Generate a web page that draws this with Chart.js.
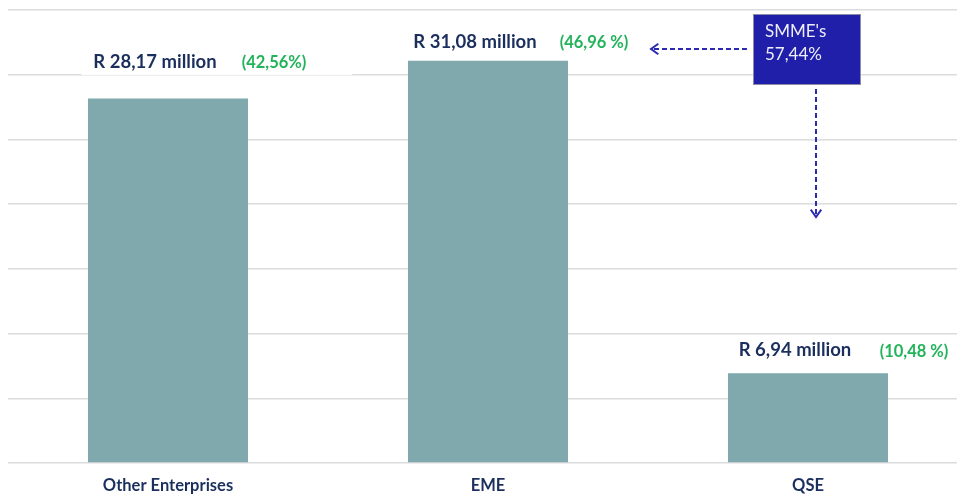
<!DOCTYPE html>
<html>
<head>
<meta charset="utf-8">
<script src="https://cdn.jsdelivr.net/npm/chart.js@4.4.1/dist/chart.umd.min.js"></script>
<style>
html,body{margin:0;padding:0;background:#fff;overflow:hidden;}
#wrap{width:970px;height:497px;position:relative;}
</style>
</head>
<body>
<div id="wrap"><canvas id="c"></canvas></div>
<script>
const categories = ['Other Enterprises', 'EME', 'QSE'];
const values = [28.17, 31.08, 6.94];
const valueLabels = ['R 28,17 million', 'R 31,08 million', 'R 6,94 million'];
const shareLabels = ['(42,56%)', '(46,96 %)', '(10,48 %)'];
const calloutLines = ["SMME's", '57,44%'];
const yTicksMax = 35;
const yTickStep = 5;

const NAVY = '#1B2F5E';
const GREEN = '#22B35A';
const BAR = '#80A9AE';
const GRID = '#DCDCDC';
const ARROW = '#2A2AB2';
const FONT = 'Lato, Carlito, "Open Sans", sans-serif';

function dashedArrow(ctx, x1, y1, x2, y2) {
  ctx.save();
  ctx.strokeStyle = ARROW;
  ctx.lineWidth = 2;
  ctx.setLineDash([5, 3]);
  ctx.beginPath(); ctx.moveTo(x1, y1); ctx.lineTo(x2, y2); ctx.stroke();
  ctx.setLineDash([]);
  const ang = Math.atan2(y2 - y1, x2 - x1);
  const L = 9, W = 0.62;
  ctx.beginPath();
  ctx.moveTo(x2 - L * Math.cos(ang - W), y2 - L * Math.sin(ang - W));
  ctx.lineTo(x2, y2);
  ctx.lineTo(x2 - L * Math.cos(ang + W), y2 - L * Math.sin(ang + W));
  ctx.stroke();
  ctx.restore();
}

const annot = {
  id: 'annot',
  afterDatasetsDraw(chart) {
    const ctx = chart.ctx;
    const meta = chart.getDatasetMeta(0);
    const labelOffsets = [36.5, 19, 23];
    const VF = 'bold 18.5px ' + FONT;
    const GF = 'bold 16.5px ' + FONT;
    ctx.save();
    meta.data.forEach((bar, i) => {
      const y = bar.y - labelOffsets[i];
      const vx = bar.x - 13;
      const gx = bar.x + 106;
      ctx.font = VF;
      const vw = ctx.measureText(valueLabels[i]).width;
      ctx.font = GF;
      const gw = ctx.measureText(shareLabels[i]).width;
      ctx.fillStyle = '#fff';
      const left = vx - vw / 2 - 12;
      const right = (i === 0) ? gx + gw / 2 + 46 : vx + vw / 2 + 58;
      ctx.fillRect(left, y - 13, right - left, 26);
      ctx.textAlign = 'center';
      ctx.textBaseline = 'middle';
      ctx.fillStyle = NAVY;
      ctx.font = VF;
      ctx.fillText(valueLabels[i], vx, y);
      ctx.fillStyle = GREEN;
      ctx.font = GF;
      ctx.fillText(shareLabels[i], gx, y + 1);
    });
    // callout box
    const qx = meta.data[2].x;
    const top = chart.chartArea.top;
    const bx = qx - 55, by = top + 4, bw = 108, bh = 71;
    ctx.fillStyle = '#1F1FAA';
    ctx.fillRect(bx, by, bw, bh);
    ctx.strokeStyle = '#8C8CA8';
    ctx.lineWidth = 1;
    ctx.strokeRect(bx + 0.5, by + 0.5, bw - 1, bh - 1);
    ctx.fillStyle = '#EEEEFA';
    ctx.font = '17px ' + FONT;
    ctx.textAlign = 'left';
    ctx.textBaseline = 'middle';
    ctx.fillText(calloutLines[0], bx + 12, by + 18);
    ctx.fillText(calloutLines[1], bx + 12, by + 41);
    // arrows
    const ex = meta.data[1].x;
    dashedArrow(ctx, bx - 6, by + 35, ex + 163, by + 35);
    dashedArrow(ctx, bx + 63, by + bh + 4, bx + 63, by + 203);
    ctx.restore();
  }
};

new Chart(document.getElementById('c'), {
  type: 'bar',
  data: {
    labels: categories,
    datasets: [{
      data: values,
      backgroundColor: BAR,
      borderWidth: 0,
      categoryPercentage: 1,
      barPercentage: 0.5
    }]
  },
  options: {
    responsive: true,
    maintainAspectRatio: false,
    animation: false,
    layout: { padding: { left: 8, top: 10, right: 2, bottom: 0 } },
    plugins: { legend: { display: false }, tooltip: { enabled: false } },
    scales: {
      y: {
        min: 0, max: yTicksMax,
        ticks: { display: false, stepSize: yTickStep },
        grid: { color: GRID, lineWidth: 1.5, drawTicks: false },
        border: { display: false },
        afterFit(s) { s.width = 0; }
      },
      x: {
        grid: { display: false, drawTicks: false },
        border: { display: false },
        ticks: { color: NAVY, font: { family: FONT, size: 16.5, weight: 'bold' }, padding: 13 },
        afterFit(s) { s.height = 34; }
      }
    }
  },
  plugins: [annot]
});
</script>
</body>
</html>
